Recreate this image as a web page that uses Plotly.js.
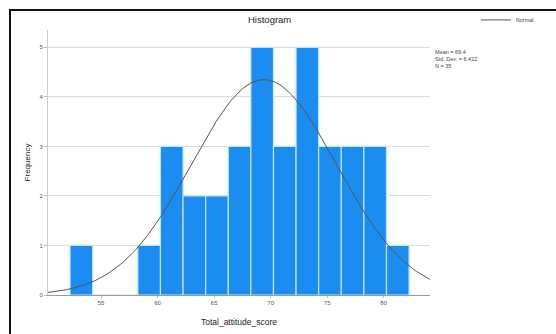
<!DOCTYPE html>
<html>
<head>
<meta charset="utf-8">
<script src="https://cdn.plot.ly/plotly-3.0.1.min.js"></script>
<style>
  html, body { margin: 0; padding: 0; background: #ffffff; }
  #wrap { position: relative; width: 556px; height: 334px; overflow: hidden; }
  #frame { position: absolute; left: 9px; top: 9px; width: 600px; height: 400px;
           border-left: 2px solid #111; border-top: 2px solid #111; pointer-events: none; }
  #chart { position: absolute; left: 0; top: 0; width: 556px; height: 334px; }
</style>
</head>
<body>
<div id="wrap">
  <div id="chart"></div>
  <div id="frame"></div>
</div>
<script>
// Histogram of Total_attitude_score with fitted normal curve
const binStart = 52.25;
const binWidth = 2;
const counts = [1, 0, 0, 1, 3, 2, 2, 3, 5, 3, 5, 3, 3, 3, 1];
const statMean = 69.4;
const statSD = 6.422;
const statN = 35;
const xTicks = [55, 60, 65, 70, 75, 80];
const yTicks = [0, 1, 2, 3, 4, 5];

const centers = counts.map((_, i) => binStart + binWidth * (i + 0.5));

// normal curve scaled to frequency: N * binWidth * pdf
const xRange = [50.3, 84.1];
const curveX = [], curveY = [];
for (let k = 0; k <= 200; k++) {
  const x = xRange[0] + (xRange[1] - xRange[0]) * k / 200;
  const z = (x - statMean) / statSD;
  curveX.push(x);
  curveY.push(statN * binWidth * Math.exp(-0.5 * z * z) / (statSD * Math.sqrt(2 * Math.PI)));
}

const bars = {
  type: 'bar',
  x: centers,
  y: counts,
  width: counts.map(() => binWidth),
  marker: { color: '#1b8cf0', line: { color: '#bfe6ff', width: 1.2 } },
  showlegend: false,
  hoverinfo: 'x+y'
};

const curve = {
  type: 'scatter',
  mode: 'lines',
  x: curveX,
  y: curveY,
  name: 'Normal',
  line: { color: '#555', width: 1 },
  showlegend: true
};

const layout = {
  width: 556, height: 334,
  margin: { l: 48, r: 126, t: 30, b: 39, autoexpand: false },
  paper_bgcolor: '#ffffff',
  plot_bgcolor: '#ffffff',
  font: { family: 'Liberation Sans, Arial, sans-serif', color: '#222' },
  title: { text: 'Histogram', font: { size: 9.5, color: '#222' }, x: 0.485, xanchor: 'center', y: 0.94, yanchor: 'middle' },
  bargap: 0,
  xaxis: {
    range: xRange,
    tickvals: xTicks,
    ticktext: xTicks.map(String),
    tickfont: { size: 6, color: '#555' },
    ticks: 'outside', ticklen: 2, tickcolor: '#bbb',
    showgrid: false, zeroline: false,
    showline: true, linecolor: '#999', linewidth: 1,
    title: { text: 'Total_attitude_score', font: { size: 8.5, color: '#222' }, standoff: 13 }
  },
  yaxis: {
    range: [0, 5.35],
    tickvals: yTicks,
    ticktext: yTicks.map(String),
    tickfont: { size: 6, color: '#555' },
    ticks: 'outside', ticklen: 3, tickcolor: '#bbb',
    showgrid: true, gridcolor: '#dcdcdc', gridwidth: 1,
    zeroline: false,
    showline: true, linecolor: '#ccc', linewidth: 1,
    title: { text: 'Frequency', font: { size: 8, color: '#222' }, standoff: 7 }
  },
  legend: {
    x: 1.12, y: 1.038, xanchor: 'left', yanchor: 'middle',
    font: { size: 5.5, color: '#444' },
    bgcolor: 'rgba(0,0,0,0)', itemwidth: 30, tracegroupgap: 0
  },
  annotations: [
    {
      xref: 'paper', yref: 'paper', x: 1.008, y: 0.935, xanchor: 'left', yanchor: 'top',
      align: 'left', showarrow: false,
      text: 'Mean = ' + statMean + '<br>Std. Dev. = ' + statSD + '<br>N = ' + statN,
      font: { size: 5.5, color: '#444' }
    }
  ]
};

Plotly.newPlot('chart', [bars, curve], layout, { displayModeBar: false, staticPlot: true });
</script>
</body>
</html>
